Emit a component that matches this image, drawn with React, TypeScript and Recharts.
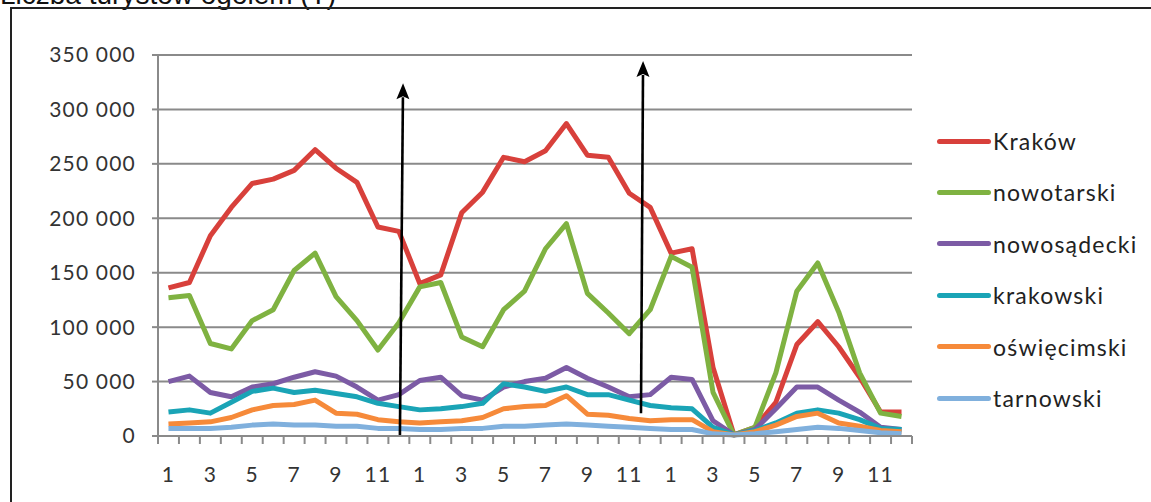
import React from "react";
import { LineChart, Line, XAxis, YAxis, CartesianGrid, ReferenceLine } from "recharts";

const months = ["1","2","3","4","5","6","7","8","9","10","11","12","1","2","3","4","5","6","7","8","9","10","11","12","1","2","3","4","5","6","7","8","9","10","11","12"];

const krakow = [136000,141000,184000,210000,232000,236000,244000,263000,246000,233000,192000,188000,140000,148000,205000,224000,256000,252000,262000,287000,258000,256000,223000,210000,168000,172000,63000,1000,8000,31000,84000,105000,82000,54000,22000,22000];
const nowotarski = [127000,129000,85000,80000,106000,116000,152000,168000,128000,106000,79000,104000,137000,141000,91000,82000,116000,133000,172000,195000,131000,113000,94000,116000,165000,155000,40000,1000,8000,58000,133000,159000,114000,58000,21000,18000];
const nowosadecki = [50000,55000,40000,36000,45000,48000,54000,59000,55000,45000,33000,38000,51000,54000,37000,33000,45000,50000,53000,63000,53000,45000,36000,38000,54000,52000,14000,1000,6000,25000,45000,45000,33000,22000,8000,6000];
const krakowski = [22000,24000,21000,31000,41000,44000,40000,42000,39000,36000,30000,27000,24000,25000,27000,30000,48000,45000,41000,45000,38000,38000,33000,28000,26000,25000,8000,1000,5000,12000,21000,24000,21000,15000,7000,6000];
const oswiecimski = [11000,12000,13000,17000,24000,28000,29000,33000,21000,20000,15000,13000,12000,13000,14000,17000,25000,27000,28000,37000,20000,19000,16000,14000,15000,15000,4000,1000,4000,10000,18000,21000,12000,9000,5000,4000];
const tarnowski = [7000,7000,7000,8000,10000,11000,10000,10000,9000,9000,7000,7000,6000,6000,7000,7000,9000,9000,10000,11000,10000,9000,8000,7000,6000,6000,2000,1000,2000,4000,6000,8000,7000,5000,3000,2000];

const yTicks = [0, 50000, 100000, 150000, 200000, 250000, 300000, 350000];

const seriesNames = ["Kraków", "nowotarski", "nowosądecki", "krakowski", "oświęcimski", "tarnowski"];
const seriesValues = [krakow, nowotarski, nowosadecki, krakowski, oswiecimski, tarnowski];
const seriesColors = ["#D8403B", "#7FB241", "#7C5BA5", "#1AA4B6", "#F68A3A", "#80B0DD"];

// annotation arrows, in (month position, value) coordinates; month position 0 = first month
const arrows = [
  { from: [11.05, 0], to: [11.2, 324000] },
  { from: [22.56, 21000], to: [22.66, 344500] },
];

const title = "Liczba turystów ogółem (T)";

const data = months.map((m, i) => {
  const row: any = { month: m, idx: i };
  seriesNames.forEach((n, s) => { row[n] = seriesValues[s][i]; });
  return row;
});

// category boundaries for the x axis tick marks
const xBoundaries = months.map((_, i) => i - 0.5).concat([months.length - 0.5]);

const W = 1151;
const H = 502;
const PLOT_LEFT = 158;
const PLOT_RIGHT = 912;
const PLOT_TOP = 55;
const PLOT_BOTTOM = 436;
const Y_AXIS_W = 100;
const X_AXIS_H = 50;
const BAND = (PLOT_RIGHT - PLOT_LEFT) / months.length;
const GRAY = "#8a8a8a";
const FONT = "Lato, 'Open Sans', sans-serif";

const fmt = (v: number) => String(v).replace(/\B(?=(\d{3})+(?!\d))/g, " ");

const XTick = (props: any) => {
  const { x, y, payload } = props;
  const k = Math.round(payload.value + 0.5);
  return (
    <g>
      <line x1={x} x2={x} y1={y} y2={y + 8} stroke={GRAY} strokeWidth={2} />
      {k < months.length && k % 2 === 0 && (
        <text x={x + BAND / 2} y={y + 46} textAnchor="middle" fill="#333" fontSize={21} fontFamily={FONT} letterSpacing={1.2}>
          {months[k]}
        </text>
      )}
    </g>
  );
};

const Arrow = (props: any) => {
  const { x1, y1, x2, y2 } = props;
  const dx = x2 - x1;
  const dy = y2 - y1;
  const len = Math.sqrt(dx * dx + dy * dy) || 1;
  const ux = dx / len;
  const uy = dy / len;
  const hl = 16;
  const hw = 6.5;
  const bx = x2 - ux * hl;
  const by = y2 - uy * hl;
  const px = -uy;
  const py = ux;
  return (
    <g>
      <line x1={x1} y1={y1} x2={bx + ux * 2} y2={by + uy * 2} stroke="#000" strokeWidth={2.6} />
      <polygon
        points={`${x2},${y2} ${bx + px * hw},${by + py * hw} ${bx + ux * 3},${by + uy * 3} ${bx - px * hw},${by - py * hw}`}
        fill="#000"
      />
    </g>
  );
};

export default function App() {
  return (
    <div style={{ position: "absolute", left: 0, top: 0, width: W, height: H, background: "#fff", overflow: "hidden" }}>
      <div
        style={{
          position: "absolute",
          left: 0,
          top: -19,
          fontFamily: "'Liberation Sans', Arial, sans-serif",
          fontSize: 28,
          lineHeight: "28px",
          color: "#111",
          whiteSpace: "nowrap",
        }}
      >
        {title}
      </div>
      <div
        style={{
          position: "absolute",
          left: 10,
          top: 7,
          width: W,
          height: H,
          borderTop: "2px solid #222",
          borderLeft: "2px solid #222",
        }}
      />
      <div style={{ position: "absolute", left: 0, top: 0 }}>
        <LineChart
          width={W}
          height={H}
          data={data}
          margin={{
            top: PLOT_TOP,
            right: W - PLOT_RIGHT,
            bottom: H - PLOT_BOTTOM - X_AXIS_H,
            left: PLOT_LEFT - Y_AXIS_W,
          }}
        >
          <CartesianGrid vertical={false} stroke={GRAY} strokeWidth={2} />
          <XAxis
            dataKey="idx"
            type="number"
            domain={[-0.5, months.length - 0.5]}
            allowDataOverflow
            ticks={xBoundaries}
            interval={0}
            height={X_AXIS_H}
            tickLine={false}
            tickSize={0}
            tickMargin={0}
            axisLine={{ stroke: GRAY, strokeWidth: 2 }}
            tick={<XTick />}
          />
          <YAxis
            domain={[0, 350000]}
            ticks={yTicks}
            width={Y_AXIS_W}
            tickFormatter={fmt}
            tickSize={6}
            tickMargin={16}
            axisLine={{ stroke: GRAY, strokeWidth: 2 }}
            tickLine={{ stroke: GRAY, strokeWidth: 2 }}
            tick={{ fill: "#333", fontSize: 21, fontFamily: FONT, letterSpacing: 1.2 }}
          />
          {seriesNames.map((n, s) => (
            <Line
              key={n}
              type="linear"
              dataKey={n}
              stroke={seriesColors[s]}
              strokeWidth={5}
              strokeLinejoin="round"
              dot={false}
              activeDot={false}
              isAnimationActive={false}
            />
          ))}
          {arrows.map((a, k) => (
            <ReferenceLine
              key={k}
              segment={[
                { x: a.from[0], y: a.from[1] },
                { x: a.to[0], y: a.to[1] },
              ]}
              shape={<Arrow />}
              ifOverflow="visible"
            />
          ))}
        </LineChart>
      </div>
      {seriesNames.map((n, s) => (
        <div
          key={n}
          style={{
            position: "absolute",
            left: 937,
            top: 141 + s * 51.4 - 15,
            height: 30,
            display: "flex",
            alignItems: "center",
            whiteSpace: "nowrap",
          }}
        >
          <span style={{ display: "inline-block", width: 54, height: 5, borderRadius: 3, background: seriesColors[s] }} />
          <span style={{ marginLeft: 2, fontFamily: FONT, fontSize: 23, letterSpacing: 1.2, color: "#222", lineHeight: "30px" }}>{n}</span>
        </div>
      ))}
    </div>
  );
}
